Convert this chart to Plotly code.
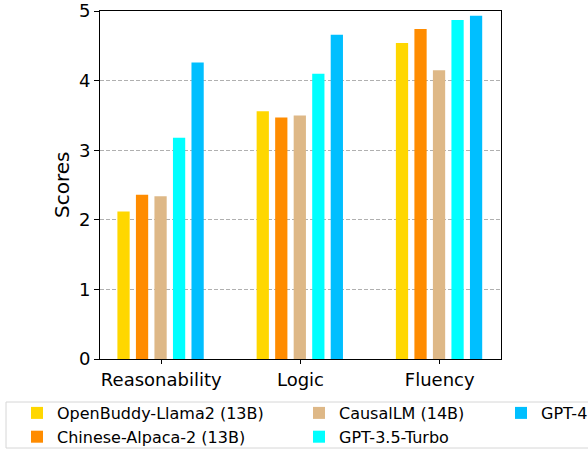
import plotly.graph_objects as go

categories = ["Reasonability", "Logic", "Fluency"]
models = ["OpenBuddy-Llama2 (13B)", "Chinese-Alpaca-2 (13B)", "CausalLM (14B)", "GPT-3.5-Turbo", "GPT-4"]
openbuddy = [2.12, 3.56, 4.54]
alpaca = [2.36, 3.47, 4.74]
causallm = [2.34, 3.50, 4.15]
gpt35 = [3.18, 4.10, 4.87]
gpt4 = [4.26, 4.66, 4.93]
series = [openbuddy, alpaca, causallm, gpt35, gpt4]
colors = ["#FFD700", "#FF8C00", "#DEB887", "#00FFFF", "#00BFFF"]
legend_ids = ["legend", "legend", "legend2", "legend2", "legend3"]
y_ticks = [0, 1, 2, 3, 4, 5]
y_title = "Scores"

W, H = 588, 450
L, R, T, B = 100, 87, 11, 91
pw, ph = W - L - R, H - T - B

def px_x(p):
    return (p - L) / pw

def px_y(p):
    return (H - B - p) / ph

def cx(p):
    return p / W

def cy(p):
    return 1 - p / H

FONT = "DejaVu Sans"
fig = go.Figure()
xpos = list(range(len(categories)))
bw = 0.088
step = 0.133
for i, (name, vals, col, lg) in enumerate(zip(models, series, colors, legend_ids)):
    center = (i - 2) * step - 0.005
    fig.add_trace(go.Bar(
        x=xpos, y=vals, name=name, marker=dict(color=col, line=dict(width=0)),
        width=bw, offset=center - bw / 2, legend=lg,
    ))

legend_common = dict(
    font=dict(family=FONT, size=16, color="#000"),
    bgcolor="rgba(0,0,0,0)", borderwidth=0,
    orientation="v", xanchor="left", yanchor="top",
    xref="container", yref="container",
    tracegroupgap=0, itemwidth=30,
)
ly = cy(396)
fig.update_layout(
    width=W, height=H,
    margin=dict(l=L, r=R, t=T, b=B, autoexpand=False),
    paper_bgcolor="white", plot_bgcolor="white",
    barmode="overlay",
    font=dict(family=FONT, color="#000"),
    legend=dict(x=cx(17), y=ly, **legend_common),
    legend2=dict(x=cx(299), y=ly, **legend_common),
    legend3=dict(x=cx(501), y=ly, **legend_common),
    showlegend=True,
    xaxis=dict(
        range=[-0.44, 2.44], tickvals=xpos, ticktext=categories,
        showline=True, linecolor="black", linewidth=1, mirror=True,
        ticks="outside", ticklen=4, tickcolor="black", showgrid=False,
        tickfont=dict(family=FONT, size=18, color="#000"), zeroline=False,
        automargin=False,
    ),
    yaxis=dict(
        range=[0, 5], tickvals=y_ticks,
        showline=True, linecolor="black", linewidth=1, mirror=True,
        ticks="outside", ticklen=5, tickcolor="black",
        showgrid=True, gridcolor="#b0b0b0", griddash="4px,2px", gridwidth=1,
        zeroline=False, automargin=False,
        tickfont=dict(family=FONT, size=18, color="#000"),
    ),
    annotations=[dict(
        text=y_title, textangle=-90, xref="paper", yref="paper",
        x=px_x(62), y=0.5, xanchor="center", yanchor="middle", showarrow=False,
        font=dict(family=FONT, size=20, color="#000"),
    )],
)
fig.add_shape(
    type="rect", xref="paper", yref="paper",
    x0=px_x(6), x1=px_x(620), y0=px_y(448), y1=px_y(402),
    line=dict(color="#d6d6d6", width=1), fillcolor="rgba(0,0,0,0)", layer="below",
)
fig.write_html("out.html", config={"displayModeBar": False},
               post_script="document.body.style.margin='0';")
